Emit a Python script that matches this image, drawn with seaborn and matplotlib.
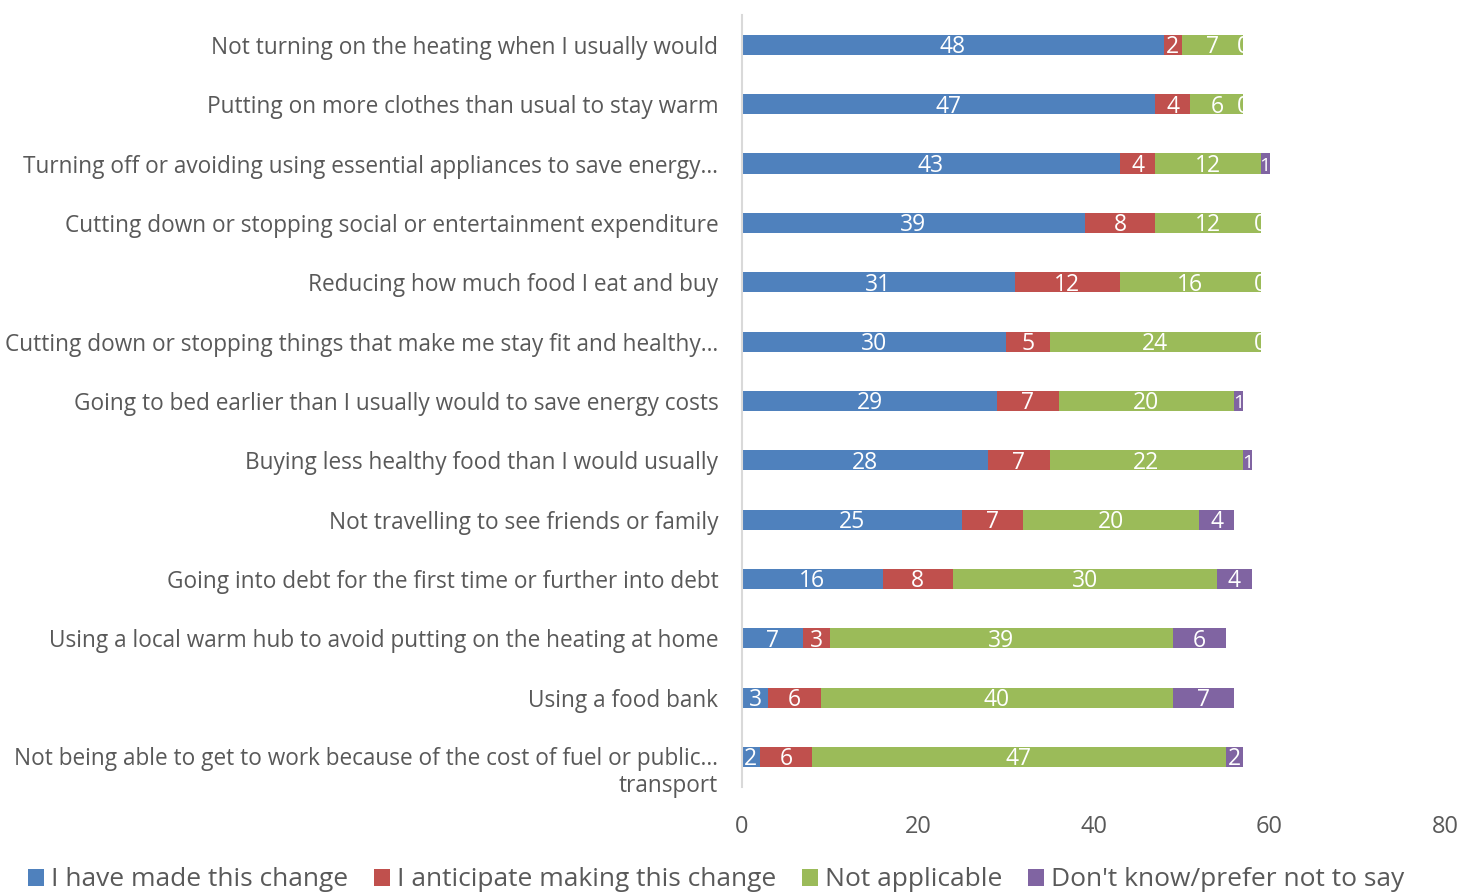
import matplotlib
matplotlib.use("Agg")
import matplotlib.pyplot as plt
import matplotlib.transforms as mtransforms
import seaborn as sns
import pandas as pd
import numpy as np
from matplotlib.patches import Rectangle, Patch

categories = [
    "Not turning on the heating when I usually would",
    "Putting on more clothes than usual to stay warm",
    "Turning off or avoiding using essential appliances to save energy…",
    "Cutting down or stopping social or entertainment expenditure",
    "Reducing how much food I eat and buy",
    "Cutting down or stopping things that make me stay fit and healthy…",
    "Going to bed earlier than I usually would to save energy costs",
    "Buying less healthy food than I would usually",
    "Not travelling to see friends or family",
    "Going into debt for the first time or further into debt",
    "Using a local warm hub to avoid putting on the heating at home",
    "Using a food bank",
    "Not being able to get to work because of the cost of fuel or public…\ntransport",
]
series_names = ["I have made this change", "I anticipate making this change",
                "Not applicable", "Don't know/prefer not to say"]
made = [48, 47, 43, 39, 31, 30, 29, 28, 25, 16, 7, 3, 2]
anticipate = [2, 4, 4, 8, 12, 5, 7, 7, 7, 8, 3, 6, 6]
not_applicable = [7, 6, 12, 12, 16, 24, 20, 22, 20, 30, 39, 40, 47]
dont_know = [0, 0, 1, 0, 0, 0, 1, 1, 4, 4, 6, 7, 2]
x_ticks = [0, 20, 40, 60, 80]

colors = ["#4F81BD", "#C0504D", "#9BBB59", "#8064A2"]
text_gray = "#595959"

sns.set_theme(style="white")
plt.rcParams["font.family"] = ["Open Sans", "DejaVu Sans"]

series = [made, anticipate, not_applicable, dont_know]
cum = np.cumsum(np.array(series, dtype=float), axis=0)

fig = plt.figure(figsize=(14.75, 8.93), dpi=100)
ax = fig.add_axes([0.503, 0.119, 0.477, 0.864])

# overlay cumulative bars, longest first
for i in range(3, -1, -1):
    df = pd.DataFrame({"cat": categories, "val": cum[i]})
    sns.barplot(data=df, x="val", y="cat", orient="h", color=colors[i],
                width=0.34, ax=ax, saturation=1, edgecolor="none",
                linewidth=0)

# value labels
for r in range(len(categories)):
    total = cum[3][r]
    for i in range(4):
        start = cum[i - 1][r] if i > 0 else 0.0
        end = cum[i][r]
        val = series[i][r]
        t = ax.text((start + end) / 2, r + 0.04, f"{val:d}", ha="center",
                    va="center", color="white", fontsize=16.5)
        if val == 0:
            clip = Rectangle((0, r - 0.3), total, 0.6, transform=ax.transData)
            t.set_clip_path(clip)
        elif i == 3 and val <= 1:
            t.set_fontsize(14)

ax.set_xlim(0, 80)
ax.set_ylim(len(categories) - 0.5, -0.5)
ax.set_xticks(x_ticks)
ax.set_xticklabels([str(v) for v in x_ticks], color=text_gray, fontsize=17)
ax.tick_params(axis="x", length=0, pad=20)
ax.tick_params(axis="y", length=0, pad=17)
ax.set_yticks(range(len(categories)))
ax.set_yticklabels(categories, color=text_gray, fontsize=16.3, linespacing=1.15)
# the wrapped last label sits a bit lower in the reference
last = ax.get_yticklabels()[-1]
last.set_transform(last.get_transform() +
                   mtransforms.ScaledTranslation(0, -11 / 100, fig.dpi_scale_trans))
ax.set_xlabel("")
ax.set_ylabel("")
for s in ["top", "right", "bottom"]:
    ax.spines[s].set_visible(False)
ax.spines["left"].set_color("#D9D9D9")
ax.spines["left"].set_linewidth(1.5)

handles = [Patch(facecolor=c, edgecolor="none") for c in colors]
fig.legend(handles, series_names, loc="lower left", bbox_to_anchor=(0.003, -0.026),
           ncol=4, frameon=False, fontsize=19, labelcolor=text_gray,
           handlelength=0.6, handleheight=0.6, handletextpad=0.25,
           columnspacing=1.0)

fig.savefig("out.png", dpi=100)
